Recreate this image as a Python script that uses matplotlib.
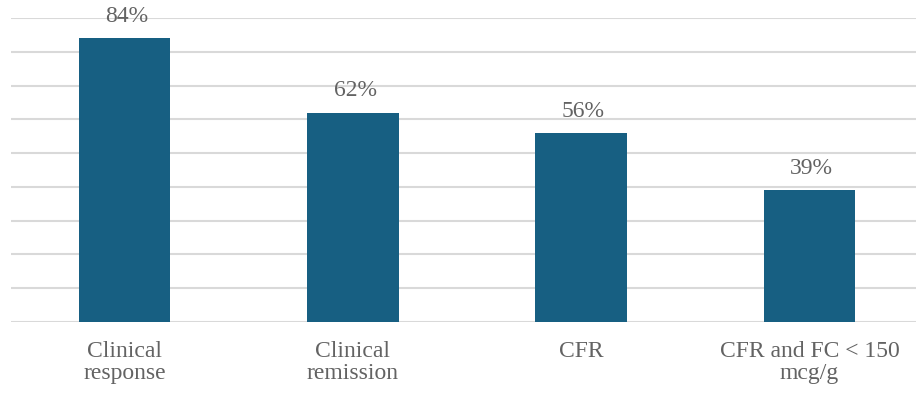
import numpy as np
import matplotlib.pyplot as plt

categories = ["Clinical\nresponse", "Clinical\nremission", "CFR", "CFR and FC < 150\nmcg/g"]
values = [84, 62, 56, 39]
labels = ["84%", "62%", "56%", "39%"]

bar_color = "#175f82"
text_color = "#636363"
grid_color = "#d9d9d9"

plt.rcParams['font.family'] = ['Liberation Serif', 'DejaVu Serif']

fig = plt.figure(figsize=(9.16, 3.93), dpi=100)
ax = fig.add_axes([10.5 / 916, 1 - 322 / 393, 913 / 916, (322 - 18) / 393])

x = np.arange(len(categories))
bars = ax.bar(x, values, width=0.4, color=bar_color, zorder=3)

# value labels above bars
for rect, lab in zip(bars, labels):
    ax.text(rect.get_x() + rect.get_width() / 2 + 0.01, rect.get_height() + 3.3, lab,
            ha="center", va="bottom", fontsize=17, color=text_color)

ax.set_xlim(-0.5, len(categories) - 0.5)
ax.set_ylim(0, 90)
ax.set_yticks(np.arange(0, 91, 10))
ax.yaxis.grid(True, color=grid_color, linewidth=1.5, zorder=0)
ax.tick_params(axis="y", left=False, labelleft=False)
ax.tick_params(axis="x", bottom=False, pad=10)
ax.set_xticks(x)
ax.set_xticklabels(categories, fontsize=17, color=text_color, linespacing=1.05)
for s in ax.spines.values():
    s.set_visible(False)

fig.savefig("out.png", dpi=100)
